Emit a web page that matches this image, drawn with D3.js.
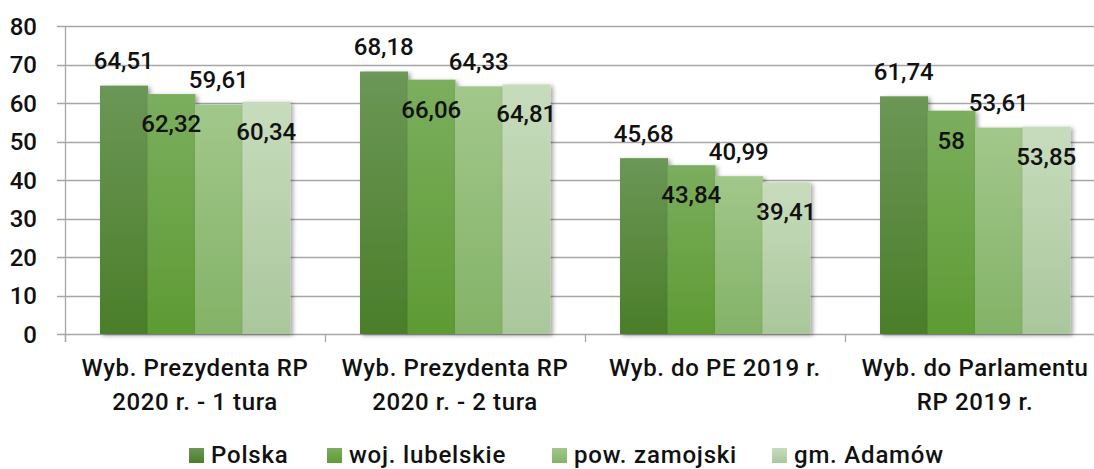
<!DOCTYPE html>
<html><head><meta charset="utf-8">
<script src="https://cdn.jsdelivr.net/npm/d3@7"></script>
<style>
html,body{margin:0;padding:0;background:#fff;overflow:hidden;}
svg{display:block;font-family:Roboto,"Noto Sans",sans-serif;}
</style></head>
<body>
<script>
const categories = [["Wyb. Prezydenta RP","2020 r. - 1 tura"],["Wyb. Prezydenta RP","2020 r. - 2 tura"],["Wyb. do PE 2019 r."],["Wyb. do Parlamentu","RP 2019 r."]];
const seriesNames = ["Polska","woj. lubelskie","pow. zamojski","gm. Adamów"];
const polska = [64.51, 68.18, 45.68, 61.74];
const lubelskie = [62.32, 66.06, 43.84, 58];
const zamojski = [59.61, 64.33, 40.99, 53.61];
const adamow = [60.34, 64.81, 39.41, 53.85];
const yTicks = [0,10,20,30,40,50,60,70,80];
const topColors = ["#6c9757","#7bae5e","#a2c78b","#c7dcbc"];
const bottomColors = ["#4a7e29","#5e9b33","#83b367","#aac79c"];

const series = [polska, lubelskie, zamojski, adamow];
const W = 1094, H = 469;
const svg = d3.select("body").append("svg").attr("width", W).attr("height", H);
const defs = svg.append("defs");
series.forEach((s,i)=>{
  const g = defs.append("linearGradient").attr("id","g"+i).attr("x1",0).attr("y1",0).attr("x2",0).attr("y2",1);
  g.append("stop").attr("offset","0%").attr("stop-color",topColors[i]);
  g.append("stop").attr("offset","100%").attr("stop-color",bottomColors[i]);
});
const f = defs.append("filter").attr("id","sh").attr("x","-20%").attr("y","-20%").attr("width","150%").attr("height","150%");
f.append("feDropShadow").attr("dx",2.5).attr("dy",1.5).attr("stdDeviation",2.2).attr("flood-color","#000").attr("flood-opacity",0.35);

const x0 = d3.scaleBand().domain(d3.range(categories.length)).range([65, 1105]).paddingInner(0).paddingOuter(0);
const x1 = d3.scaleBand().domain(d3.range(series.length)).range([35, x0.bandwidth()-35]);
const y = d3.scaleLinear().domain([0,80]).range([334, 26]);

// gridlines
svg.append("g").selectAll("line").data(yTicks).join("line")
  .attr("x1",57).attr("x2",W).attr("y1",d=>Math.round(y(d))+0.5).attr("y2",d=>Math.round(y(d))+0.5)
  .attr("stroke","#a6a6a6").attr("stroke-width",1.3);
// y axis line
svg.append("line").attr("x1",65.5).attr("x2",65.5).attr("y1",y(80)).attr("y2",342).attr("stroke","#a6a6a6").attr("stroke-width",1.3);
// x category ticks
svg.append("g").selectAll("line").data(d3.range(categories.length+1)).join("line")
  .attr("x1",d=>65.5+d*x0.bandwidth()).attr("x2",d=>65.5+d*x0.bandwidth())
  .attr("y1",334).attr("y2",342).attr("stroke","#a6a6a6").attr("stroke-width",1.3);
// y labels
svg.append("g").selectAll("text").data(yTicks).join("text")
  .attr("x",37).attr("y",d=>y(d)+8.5).attr("text-anchor","end")
  .attr("font-size",24).attr("font-weight",500).attr("fill","#111").text(d=>d);

// bars
const groups = svg.append("g").selectAll("g").data(categories).join("g")
  .attr("transform",(d,i)=>`translate(${x0(i)},0)`);
groups.each(function(c,ci){
  const g = d3.select(this);
  series.forEach((s,si)=>{
    g.append("rect").attr("x",x1(si)).attr("width",x1.bandwidth()+0.5)
      .attr("y",y(s[ci])).attr("height",y(0)-y(s[ci]))
      .attr("fill",`url(#g${si})`).attr("filter","url(#sh)");
  });
});
const fmt = v => String(v).replace(".", ",");
groups.each(function(c,ci){
  const g = d3.select(this);
  series.forEach((s,si)=>{
    const above = si % 2 === 0;
    g.append("text").attr("x",x1(si)+x1.bandwidth()/2)
      .attr("y", above ? y(s[ci]) - 16.5 : y(s[ci]) + 38)
      .attr("text-anchor","middle").attr("font-size",24).attr("font-weight",500).attr("fill","#111")
      .text(fmt(s[ci]));
  });
});
// category labels
groups.each(function(c,ci){
  const t = d3.select(this).append("text").attr("text-anchor","middle")
    .attr("font-size",24).attr("font-weight",500).attr("letter-spacing","0.6px").attr("fill","#111");
  c.forEach((line,li)=>{
    t.append("tspan").attr("x",x0.bandwidth()/2).attr("y",376+li*34).text(line);
  });
});
// legend
const legX = [189, 327, 552, 772];
const leg = svg.append("g").selectAll("g").data(seriesNames).join("g")
  .attr("transform",(d,i)=>`translate(${legX[i]},448)`);
leg.append("rect").attr("width",15).attr("height",15).attr("fill",(d,i)=>`url(#g${i})`);
leg.append("text").attr("x",22).attr("y",15).attr("font-size",24).attr("font-weight",500).attr("letter-spacing","0.8px").attr("fill","#111").text(d=>d);
</script>
</body></html>
